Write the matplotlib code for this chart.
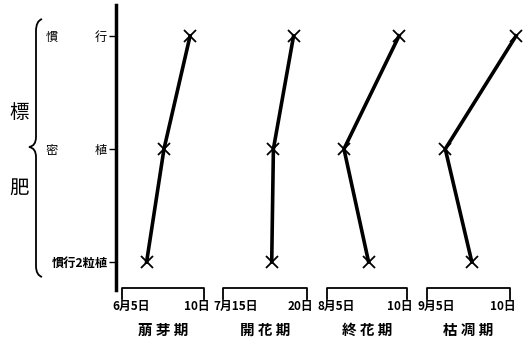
import matplotlib.pyplot as plt
import matplotlib.transforms as mtransforms
from matplotlib.path import Path
from matplotlib.patches import PathPatch

plt.rcParams['font.family'] = ['Noto Sans CJK JP', 'DejaVu Sans']

# data
stages = ['萠 芽 期', '開 花 期', '終 花 期', '枯 凋 期']
start_labels = ['6月5日', '7月15日', '8月5日', '9月5日']
end_labels = ['10日', '20日', '10日', '10日']
day_start = [5, 15, 5, 5]
treatments = ['慣　　　行', '密　　　植', '慣行2粒植']
kanko = [9.15, 19.2, 9.5, 10.36]   # 慣行
mitsu = [7.56, 18.0, 6.06, 6.1]    # 密植
niryu = [6.5, 17.9, 7.6, 7.7]      # 慣行2粒植

W, H = 528, 347
fig = plt.figure(figsize=(W / 100, H / 100), dpi=100)

top_px, bot_px = 5, 290
bottom = (H - bot_px) / H
height = (bot_px - top_px) / H
ylim = (2.248, -0.274)

# left axis with treatment labels
ax = fig.add_axes([116 / W, bottom, 400 / W, height])
ax.set_ylim(*ylim)
ax.set_xlim(0, 1)
for s in ['top', 'right', 'bottom']:
    ax.spines[s].set_visible(False)
ax.spines['left'].set_linewidth(2.5)
ax.set_xticks([])
ax.set_yticks(range(len(treatments)))
ax.set_yticklabels(treatments, fontsize=8.8)
ax.get_yticklabels()[2].set_fontweight('bold')
ax.tick_params(axis='y', direction='out', length=5, width=1, pad=1)
ax.patch.set_alpha(0)

# one little axes per stage
lefts = [122, 223, 327, 427]
rights = [204, 307, 407, 510]
for i in range(4):
    a = fig.add_axes([lefts[i] / W, bottom, (rights[i] - lefts[i]) / W, height])
    a.set_xlim(day_start[i], day_start[i] + 5)
    a.set_ylim(*ylim)
    a.axis('off')
    xs = [kanko[i], mitsu[i], niryu[i]]
    a.plot(xs, [0, 1, 2], color='black', lw=2.6, marker='x', ms=8,
           mew=1.3, clip_on=False)
    tr = mtransforms.blended_transform_factory(a.transData, a.transAxes)
    s = day_start[i]
    a.plot([s, s, s + 5, s + 5], [-0.03, 0.007, 0.007, -0.03],
           color='black', lw=1.3, transform=tr, clip_on=False)
    a.text(s - 0.6, -0.058, start_labels[i], transform=tr, ha='left',
           va='center', fontsize=8.5, fontweight='bold')
    a.text(s + 5.35, -0.058, end_labels[i], transform=tr, ha='right',
           va='center', fontsize=8.5, fontweight='bold')
    a.text(s + 2.5, -0.14, stages[i], transform=tr, ha='center',
           va='center', fontsize=10.5, fontweight='bold')

# brace and 標肥
ov = fig.add_axes([0, 0, 1, 1])
ov.set_xlim(0, W)
ov.set_ylim(H, 0)
ov.axis('off')
ov.patch.set_alpha(0)
verts = [(42, 19), (36, 21), (36, 31), (36, 137), (36, 146), (29, 147),
         (36, 148), (36, 157), (36, 266), (36, 275), (42, 277)]
codes = [Path.MOVETO, Path.CURVE3, Path.CURVE3, Path.LINETO, Path.CURVE3,
         Path.CURVE3, Path.CURVE3, Path.CURVE3, Path.LINETO, Path.CURVE3,
         Path.CURVE3]
ov.add_patch(PathPatch(Path(verts, codes), fill=False, lw=1.3, color='black'))
ov.text(19, 112, '標', fontsize=14, ha='center', va='center')
ov.text(19, 188, '肥', fontsize=14, ha='center', va='center')

fig.savefig('out.png', dpi=100)
